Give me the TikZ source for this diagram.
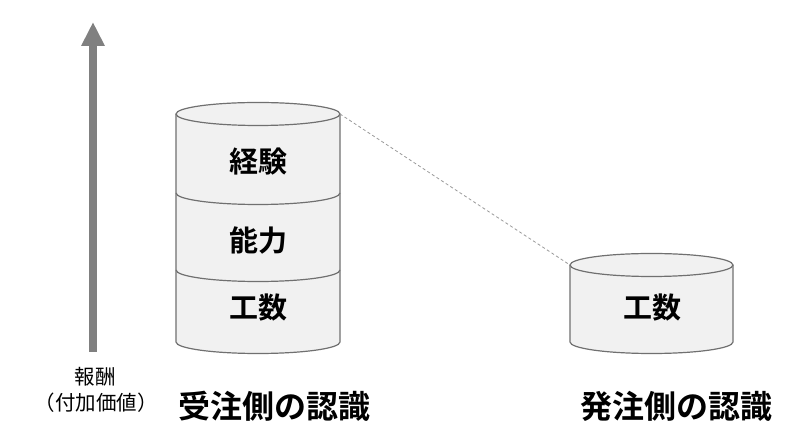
\documentclass[tikz,border=0pt]{standalone}
\usepackage{fontspec}
\setmainfont{Noto Sans CJK JP}[BoldFont={* Bold}]
\usetikzlibrary{arrows.meta}
\definecolor{cylfill}{HTML}{F1F1F1}
\definecolor{cylline}{HTML}{707070}
\definecolor{arrowgray}{HTML}{808080}
\definecolor{dashgray}{HTML}{9A9A9A}
\tikzset{
  cylbody/.style={fill=cylfill},
  cylstroke/.style={draw=cylline, line width=1.2pt},
  inlabel/.style={font=\bfseries\fontsize{29}{31}\selectfont, text=black, inner sep=0pt},
  caption/.style={font=\bfseries\fontsize{32}{34}\selectfont, text=black, inner sep=0pt},
  axislabel/.style={font=\fontsize{20.5}{22}\selectfont, text=black, inner sep=0pt},
  linkline/.style={draw=dashgray, line width=0.8pt, dash pattern=on 3pt off 2.5pt},
}
\begin{document}
\begin{tikzpicture}[x=1pt,y=1pt]
\useasboundingbox (0,0) rectangle (800,444);
\fill[white] (0,0) rectangle (800,444);

% axis arrow
\coordinate (ax0) at (93,92);
\coordinate (ax1) at (93,422);
\draw[arrowgray, line width=8pt, -{Triangle[width=22pt,length=24pt]}] (ax0) -- (ax1);
\node[axislabel] (rew) at (95,67) {報酬};
\node[axislabel] (val) at (96,41) {（付加価値）};

% left cylinder
\fill[cylbody] (176,330) -- (176,102) arc[start angle=180,end angle=360,x radius=82,y radius=11.5] -- (340,330) arc[start angle=0,end angle=180,x radius=82,y radius=11.5] -- cycle;
\draw[cylstroke] (176,330) -- (176,102) arc[start angle=180,end angle=360,x radius=82,y radius=11.5] -- (340,330);
\draw[cylstroke] (176,251) arc[start angle=180,end angle=360,x radius=82,y radius=11.5];
\draw[cylstroke] (176,174) arc[start angle=180,end angle=360,x radius=82,y radius=11.5];
\draw[cylstroke, fill=cylfill] (258,330) ellipse[x radius=82,y radius=11.5];
\coordinate (ltr) at (340,330);
\node[inlabel] (exp) at (258,282) {経験};
\node[inlabel] (abl) at (258,204) {能力};
\node[inlabel] (man1) at (258,136) {工数};

% right cylinder
\fill[cylbody] (570,179) -- (570,102) arc[start angle=180,end angle=360,x radius=81.5,y radius=11.5] -- (733,179) arc[start angle=0,end angle=180,x radius=81.5,y radius=11.5] -- cycle;
\draw[cylstroke] (570,179) -- (570,102) arc[start angle=180,end angle=360,x radius=81.5,y radius=11.5] -- (733,179);
\draw[cylstroke, fill=cylfill] (651.5,179) ellipse[x radius=81.5,y radius=11.5];
\coordinate (rtl) at (570,179);
\node[inlabel] (man2) at (652,136) {工数};

% dashed link
\draw[linkline] (ltr) -- (rtl);

% captions
\node[caption] (cap1) at (274,38) {受注側の認識};
\node[caption] (cap2) at (676,38) {発注側の認識};
\end{tikzpicture}
\end{document}
